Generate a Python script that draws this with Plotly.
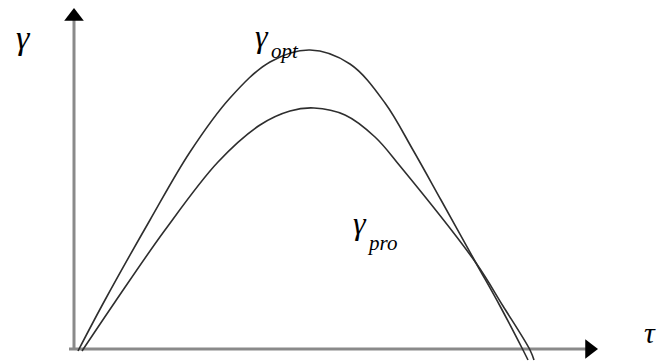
import plotly.graph_objects as go

# Curve samples (tau, gamma) in arbitrary units
tau_opt = [0.04, 0.31, 0.76, 1.16, 1.56, 1.96, 2.36, 2.76, 3.11, 3.39, 3.67, 4.02, 4.26, 4.49, 4.54]
gamma_opt = [-0.02, 0.49, 1.29, 1.97, 2.51, 2.87, 2.99, 2.85, 2.46, 1.99, 1.49, 0.86, 0.43, -0.01, -0.11]

tau_pro = [0.08, 0.41, 0.91, 1.44, 1.86, 2.16, 2.40, 2.71, 3.01, 3.26, 4.02, 4.29, 4.56, 4.60]
gamma_pro = [-0.02, 0.47, 1.19, 1.87, 2.24, 2.38, 2.41, 2.34, 2.12, 1.83, 0.86, 0.43, -0.01, -0.11]

# Axis extents (arrow tips)
axis_top = 3.41
axis_right = 5.24
arrow_size = 17

GREEK_FONT = "Liberation Serif"
SUB_FONT = "Liberation Serif"
AXIS_GRAY = "#8a8a8a"
CURVE = "#2e2e2e"

fig = go.Figure()

# Coordinate axes drawn as plain lines
fig.add_trace(go.Scatter(x=[0, 0], y=[0, axis_top - 0.12], mode="lines",
                         line=dict(color=AXIS_GRAY, width=3), hoverinfo="skip"))
fig.add_trace(go.Scatter(x=[-0.05, axis_right - 0.12], y=[0, 0], mode="lines",
                         line=dict(color=AXIS_GRAY, width=3), hoverinfo="skip"))

# Curves
fig.add_trace(go.Scatter(x=tau_opt, y=gamma_opt, mode="lines", line_shape="spline",
                         line=dict(color=CURVE, width=1.6, smoothing=1.0), name="γopt"))
fig.add_trace(go.Scatter(x=tau_pro, y=gamma_pro, mode="lines", line_shape="spline",
                         line=dict(color=CURVE, width=1.6, smoothing=1.0), name="γpro"))

# Arrowheads
r = arrow_size / 2 / 100.0
fig.add_trace(go.Scatter(x=[0], y=[axis_top - r], mode="markers",
                         marker=dict(symbol="triangle-up", size=arrow_size, color="black",
                                     line=dict(width=0)), hoverinfo="skip"))
fig.add_trace(go.Scatter(x=[axis_right - r], y=[0], mode="markers",
                         marker=dict(symbol="triangle-right", size=arrow_size, color="black",
                                     line=dict(width=0)), hoverinfo="skip"))

def label(x, y, text, size, family):
    fig.add_annotation(x=x, y=y, xref="x", yref="y", text=text, showarrow=False,
                       xanchor="center", yanchor="middle",
                       font=dict(family=family, size=size, color="black"))

label(-0.51, 3.12, "<i>γ</i>", 34, GREEK_FONT)
label(1.88, 3.13, "<i>γ</i>", 32, GREEK_FONT)
label(2.11, 2.98, "<i>opt</i>", 21, SUB_FONT)
label(2.86, 1.26, "<i>γ</i>", 32, GREEK_FONT)
label(3.08, 1.06, "<i>pro</i>", 21, SUB_FONT)
label(5.76, 0.17, "<i>τ</i>", 30, GREEK_FONT)

fig.update_layout(
    width=657, height=361,
    margin=dict(l=0, r=0, t=0, b=0),
    paper_bgcolor="white", plot_bgcolor="white",
    showlegend=False,
    xaxis=dict(range=[-0.74, 5.83], visible=False, fixedrange=True),
    yaxis=dict(range=[-0.12, 3.49], visible=False, fixedrange=True),
)

fig.write_html("out.html")
